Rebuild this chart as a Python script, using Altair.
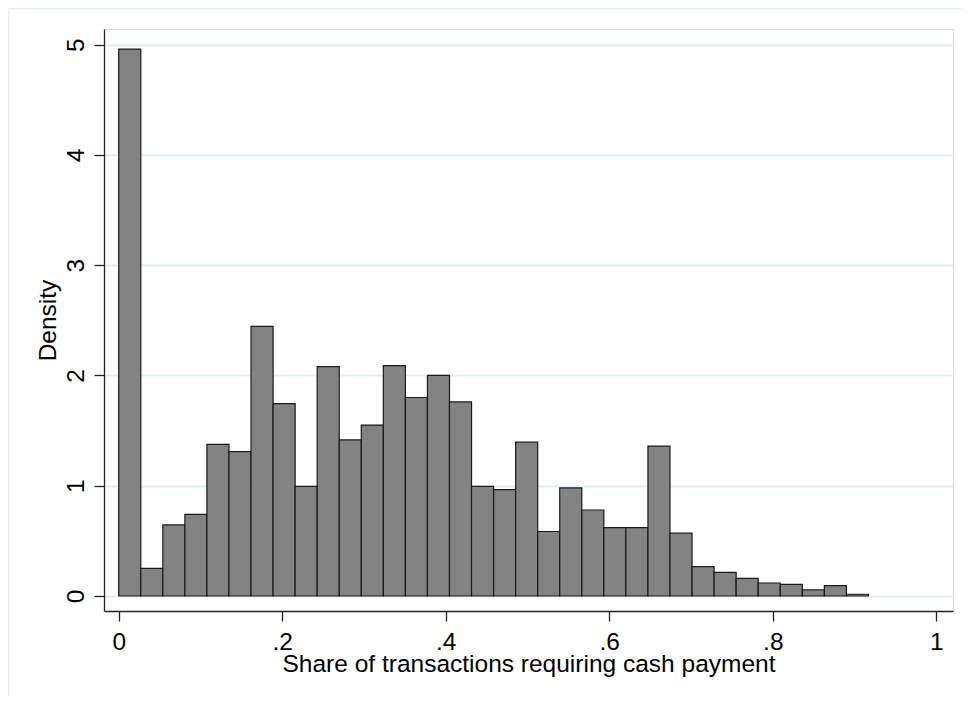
import altair as alt
import pandas as pd

# Histogram densities (Stata-style), 34 equal-width bins starting at 0
density = [4.96, 0.25, 0.645, 0.74, 1.375, 1.31, 2.445, 1.745, 0.995, 2.08,
           1.415, 1.55, 2.09, 1.80, 2.00, 1.76, 0.995, 0.965, 1.395, 0.585,
           0.98, 0.78, 0.62, 0.62, 1.36, 0.57, 0.266, 0.214, 0.16, 0.118,
           0.106, 0.055, 0.095, 0.016]
bin_width = 0.917 / 34
x_ticks = [0, 0.2, 0.4, 0.6, 0.8, 1.0]
y_ticks = [0, 1, 2, 3, 4, 5]

df = pd.DataFrame({
    "start": [i * bin_width for i in range(len(density))],
    "end": [(i + 1) * bin_width for i in range(len(density))],
    "density": density,
})

FONT = "Liberation Sans"
FS = 24.5
W, H = 849, 582
PAD = {"left": 96, "top": 21, "right": 8, "bottom": 85}

xscale = alt.Scale(domain=[-0.018, 1.0204], nice=False, zero=False)
yscale = alt.Scale(domain=[-0.136, 5.142], nice=False, zero=False)

bars = alt.Chart(df).mark_bar(
    color="#838383", stroke="#1a1a1a", strokeWidth=1.2, binSpacing=0
).encode(
    x=alt.X("start:Q", scale=xscale,
            axis=alt.Axis(values=x_ticks, grid=False, tickSize=10, tickColor="#222222",
                          domainColor="#222222", domainWidth=1.3, tickWidth=1.3,
                          labelExpr="datum.value == 0 ? '0' : datum.value == 1 ? '1' : replace(format(datum.value, '.1f'), '0.', '.')",
                          labelFont=FONT, labelFontSize=FS, labelColor="#000000",
                          labelBaseline="alphabetic", labelPadding=28, labelFlush=False,
                          title="Share of transactions requiring cash payment",
                          titleFont=FONT, titleFontSize=FS, titleFontWeight="normal",
                          titleColor="#000000", titleBaseline="alphabetic", titleY=60)),
    x2="end:Q",
    y=alt.Y("density:Q", scale=yscale,
            axis=alt.Axis(values=y_ticks, grid=True, gridColor="#E6EEF1", gridWidth=2.2,
                          tickSize=10, tickColor="#222222", domainColor="#222222",
                          domainWidth=1.3, tickWidth=1.3, labelFont=FONT, labelFontSize=FS,
                          labelColor="#000000", labelAngle=270, labelAlign="center",
                          labelBaseline="alphabetic", labelPadding=11, labelFlush=False,
                          title="Density", titleFont=FONT, titleFontSize=FS,
                          titleFontWeight="normal", titleColor="#000000", titleAngle=270,
                          titleAlign="center", titleBaseline="alphabetic", titleX=-49)),
    y2=alt.datum(0),
)

# faint outer frame of the graph region (left and top edges)
frame_left = alt.Chart().mark_rule(color="#E6EEF1", strokeWidth=1.5).encode(
    x=alt.value(-PAD["left"] + 0.75), y=alt.value(-PAD["top"]), y2=alt.value(H + PAD["bottom"])
)
frame_top = alt.Chart().mark_rule(color="#E6EEF1", strokeWidth=1.5).encode(
    x=alt.value(-PAD["left"]), x2=alt.value(W + PAD["right"]), y=alt.value(-PAD["top"] + 0.75)
)

chart = alt.layer(frame_left, frame_top, bars).properties(
    width=W, height=H,
    autosize=alt.AutoSizeParams(type="none"),
    padding=PAD,
).configure_view(stroke=None).configure(background="white")

chart.save("out.html", embed_options={"renderer": "svg", "actions": False})
